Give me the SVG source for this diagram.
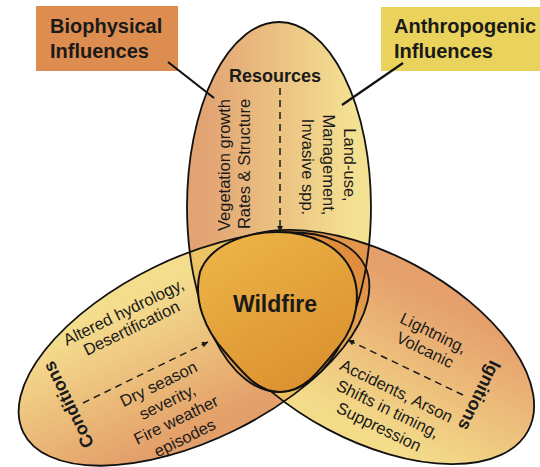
<svg xmlns="http://www.w3.org/2000/svg" width="540" height="467" viewBox="0 0 540 467">
<defs>
<linearGradient id="gTop" x1="0" y1="0" x2="1" y2="0">
<stop offset="0.1" stop-color="#D67D38"/><stop offset="0.9" stop-color="#EFD363"/>
</linearGradient>
<linearGradient id="gLeft" x1="0" y1="0" x2="0" y2="1">
<stop offset="0.1" stop-color="#EFD05E"/><stop offset="0.9" stop-color="#D8772A"/>
</linearGradient>
<linearGradient id="gRight" x1="0" y1="0" x2="0" y2="1">
<stop offset="0.1" stop-color="#DA772D"/><stop offset="0.9" stop-color="#EECC58"/>
</linearGradient>
<linearGradient id="gFire" x1="0.2" y1="0" x2="0.8" y2="1">
<stop offset="0" stop-color="#ECB446"/><stop offset="1" stop-color="#DB8E2E"/>
</linearGradient>
<marker id="arr" viewBox="0 0 10 10" refX="10" refY="5" markerWidth="7" markerHeight="6" orient="auto" markerUnits="userSpaceOnUse">
<path d="M0,0 L10,5 L0,10 z" fill="#1a1a1a"/>
</marker>
<ellipse id="eTop" cx="279" cy="207" rx="92" ry="185"/>
<ellipse id="eLeft" cx="194" cy="349" rx="190" ry="91" transform="rotate(-26 194 349)"/>
<ellipse id="eRight" cx="371" cy="347" rx="178" ry="93" transform="rotate(28 371 347)"/>
</defs>
<style>
.fill{fill-opacity:0.7;stroke:none}
.outline{fill:none;stroke:#111;stroke-width:1.8}
.t{font-family:"Liberation Sans",Arial,sans-serif;font-size:16.5px;fill:#1a1a1a;text-anchor:middle}
.b{font-family:"Liberation Sans",Arial,sans-serif;font-weight:bold;fill:#1a1a1a}
.dash{stroke:#1a1a1a;stroke-width:1.5;stroke-dasharray:7 5;fill:none}
.lead{stroke:#111;stroke-width:2.2}
</style>
<rect width="540" height="467" fill="#ffffff"/>

<g id="node-resources">
<use href="#eTop" class="fill" fill="url(#gTop)"/>
</g>
<g id="node-conditions">
<use href="#eLeft" class="fill" fill="url(#gLeft)"/>
</g>
<g id="node-ignitions">
<use href="#eRight" class="fill" fill="url(#gRight)"/>
</g>
<g id="outlines">
<use href="#eTop" class="outline"/>
<use href="#eLeft" class="outline"/>
<use href="#eRight" class="outline"/>
</g>

<g id="node-wildfire">
<path d="M277,232 C310,232 340,245 352,272 C362,295 356,325 340,345 C320,370 305,392 280,392 C258,392 245,375 225,352 C205,330 193,300 200,272 C210,245 245,232 277,232 Z" fill="url(#gFire)" stroke="#111" stroke-width="2"/>
<text class="b" x="275" y="312" font-size="23" text-anchor="middle">Wildfire</text>
</g>

<g id="node-biophysical">
<rect x="36" y="6" width="142" height="65" fill="#DC8D4F"/>
<text class="b" x="50" y="33" font-size="20">Biophysical</text>
<text class="b" x="50" y="58" font-size="20">Influences</text>
</g>
<g id="node-anthropogenic">
<rect x="381" y="7" width="159" height="64" fill="#EAD35C"/>
<text class="b" x="394" y="33" font-size="20">Anthropogenic</text>
<text class="b" x="394" y="58" font-size="20">Influences</text>
</g>

<g id="connectors">
<line class="lead" x1="168" y1="62" x2="214" y2="98"/>
<line class="lead" x1="403" y1="63" x2="342" y2="105"/>
<line class="dash" x1="280" y1="88" x2="280" y2="232" marker-end="url(#arr)"/>
<line class="dash" x1="83" y1="403" x2="208" y2="342" marker-end="url(#arr)"/>
<line class="dash" x1="463" y1="395" x2="348" y2="340" marker-end="url(#arr)"/>
</g>

<g id="labels-resources">
<text class="b" x="275" y="82" font-size="18" text-anchor="middle">Resources</text>
<text class="t" transform="translate(230,165) rotate(-90)">Vegetation growth</text>
<text class="t" transform="translate(250,164) rotate(-90)">Rates &amp; Structure</text>
<text class="t" transform="translate(344,165) rotate(90)">Land-use,</text>
<text class="t" transform="translate(323,165) rotate(90)">Management,</text>
<text class="t" transform="translate(302,167) rotate(90)">Invasive spp.</text>
</g>
<g id="labels-conditions">
<text class="b" font-size="18" text-anchor="middle" transform="translate(74,402) rotate(-116)">Conditions</text>
<g transform="translate(126,317) rotate(-26)">
<text class="t" x="0" y="0">Altered hydrology,</text>
<text class="t" x="0" y="18">Desertification</text>
</g>
<g transform="translate(161,389) rotate(-26)">
<text class="t" x="0" y="0">Dry season</text>
<text class="t" x="0" y="20">severity,</text>
<text class="t" x="0" y="40">Fire weather</text>
<text class="t" x="0" y="60">episodes</text>
</g>
</g>
<g id="labels-ignitions">
<text class="b" font-size="18" text-anchor="middle" transform="translate(474,393) rotate(116)">Ignitions</text>
<g transform="translate(431,338) rotate(26)">
<text class="t" x="0" y="0">Lightning,</text>
<text class="t" x="0" y="19">Volcanic</text>
</g>
<g transform="translate(394,396) rotate(26)">
<text class="t" x="0" y="0">Accidents, Arson</text>
<text class="t" x="0" y="20">Shifts in timing,</text>
<text class="t" x="0" y="40">Suppression</text>
</g>
</g>
</svg>
